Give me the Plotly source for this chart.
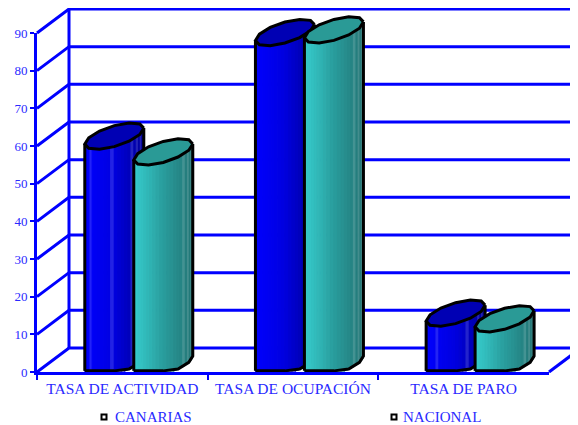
import numpy as np
import plotly.graph_objects as go

categories = ["TASA DE ACTIVIDAD", "TASA DE OCUPACIÓN", "TASA DE PARO"]
canarias = [60.5, 88, 13.5]
nacional = [56.3, 88.7, 12]
y_ticks = [0, 10, 20, 30, 40, 50, 60, 70, 80, 90]

# the page body adds an 8 px offset, so the figure is 8 px smaller and pixel values are shifted
PAGE = 8
W, H = 578 - PAGE, 425 - PAGE
PX_L, PX_R, PX_0, PX_90 = 37 - PAGE, 549 - PAGE, 372 - PAGE, 33 - PAGE
UX = (PX_R - PX_L) / 3
UY = (PX_0 - PX_90) / 90
DX, DY = 32 / UX, 24 / UY          # depth of the 3D box
X0 = -0.5 - PX_L / UX
X1 = X0 + W / UX
Y0 = -(H - PX_0) / UY
Y1 = PX_0 / UY

CW = 59 / UX       # cylinder width
RISE = 16 / UY     # slant of the ellipse
HALF = 10.5 / UY   # half thickness of the ellipse
OFFS = (-0.22, 0.067)
BLUE = ("#0000ff", "#0000e0", "#00009c")
TEAL = ("#38cfcf", "#2a9e9e", "#247676")
CAP = ("#0000b4", "#2a9a96")
GRID = "#0000ff"
TXT = "#2a2aff"
FONT = "Liberation Serif"


def hexrgb(c):
    return np.array([int(c[i:i + 2], 16) for i in (1, 3, 5)], float)


def ramp(cols, f):
    a, b, c = [hexrgb(k) for k in cols]
    return a + (b - a) * f * 2 if f < .5 else b + (c - b) * (f - .5) * 2


fig = go.Figure()


def line(xs, ys, color=GRID, width=3):
    fig.add_trace(go.Scatter(x=xs, y=ys, mode="lines", line=dict(color=color, width=width),
                             hoverinfo="skip", showlegend=False, xaxis="x", yaxis="y"))


def poly(xs, ys, fill, lc=None, lw=0):
    fig.add_trace(go.Scatter(x=xs, y=ys, mode="lines", fill="toself", fillcolor=fill,
                             line=dict(color=lc or fill, width=lw if lc else 1.2),
                             hoverinfo="skip", showlegend=False, xaxis="x", yaxis="y"))


# box
for v in y_ticks:
    line([-0.5, -0.5 + DX, X1 + 1], [v, v + DY, v + DY])
line([-0.5 + DX] * 2, [DY, 90 + DY])
line([2.5, 2.5 + DX], [0, DY])


def cylinder(left, val, cols, cap, streaks):
    cx = left + CW / 2
    n = 26
    ts = np.linspace(np.pi, 2 * np.pi, n + 1)

    def low(level, t):
        x = cx + CW / 2 * np.cos(t)
        y = level + RISE / 2 + RISE / 2 * np.cos(t) + HALF * np.sin(t)
        return x, y

    for i in range(n):
        x1, y1 = low(val, ts[i])
        x2, y2 = low(val, ts[i + 1])
        b1 = max(low(0, ts[i])[1], 0.3)
        b2 = max(low(0, ts[i + 1])[1], 0.3)
        f = ((x1 + x2) / 2 - left) / CW
        rgb = ramp(cols, f)
        if i in streaks:
            rgb = rgb * .86 + np.array([255, 255, 255]) * .14
        poly([x1, x2, x2, x1, x1], [y1, y2, b2, b1, y1], "rgb(%d,%d,%d)" % tuple(rgb))
    tb = np.linspace(np.pi, 2 * np.pi, 7)
    bx, by = low(0, tb)
    by = np.maximum(by, 0.3)
    tx, ty = low(val, tb)
    line(list(bx) + [tx[-1]], list(by) + [ty[-1]], "#000000", 3)
    line([bx[0], tx[0]], [by[0], ty[0]], "#000000", 3)
    tc = np.linspace(0, 2 * np.pi, 13)
    cxs, cys = low(val, tc)
    poly(list(cxs), list(cys), cap, "#000000", 3)


streak_sets = [(5, 12, 18, 20, 22), (), (7, 16, 20, 22)]
for k in range(3):
    cylinder(k + OFFS[0], canarias[k], BLUE, CAP[0], streak_sets[k])
    cylinder(k + OFFS[1], nacional[k], TEAL, CAP[1], (19, 21, 23))

# carrier bars keep the real category axis, invisible
fig.add_trace(go.Bar(x=categories, y=canarias, opacity=0, xaxis="x2", yaxis="y2",
                     hoverinfo="skip", showlegend=False))

# legend keys sit closer to their text than a Plotly legend allows, so the entries carry the text
KEY = dict(symbol="square", size=5, color="white", line=dict(color="black", width=2))
for name, leg, px in (("CANARIAS", "legend", 104), ("NACIONAL", "legend2", 394)):
    fig.add_trace(go.Scatter(x=[None], y=[None], mode="markers", name=name, xaxis="x2", yaxis="y2", legend=leg,
                             marker=dict(symbol="square", size=5, color="rgba(0,0,0,0)",
                                         line=dict(width=0, color="rgba(0,0,0,0)"))))
    fig.add_trace(go.Scatter(x=[X0 + (px - PAGE) / UX], y=[Y1 - (417 - PAGE) / UY], mode="markers", marker=KEY,
                             hoverinfo="skip", showlegend=False, xaxis="x", yaxis="y"))


def legend_at(px):
    return dict(x=(px - PAGE) / W, y=1 - (416 - PAGE) / H, xanchor="left", yanchor="middle",
                font=dict(family=FONT, size=15, color=TXT), bgcolor="rgba(0,0,0,0)",
                itemwidth=30)


fig.update_layout(
    width=W, height=H, margin=dict(l=0, r=0, t=0, b=0, autoexpand=False), autosize=False,
    paper_bgcolor="white", plot_bgcolor="rgba(0,0,0,0)", bargap=0.4,
    font=dict(family=FONT, size=13, color=TXT),
    xaxis=dict(domain=[0, 1], range=[X0, X1], visible=False, fixedrange=True),
    yaxis=dict(domain=[0, 1], range=[Y0, Y1], visible=False, fixedrange=True),
    xaxis2=dict(domain=[PX_L / W, PX_R / W], anchor="y2", type="category", categoryorder="array",
                categoryarray=categories, range=[-0.5, 2.5], tickson="boundaries", ticks="outside", ticklen=5,
                tickwidth=2, tickcolor=GRID, showline=True, linecolor=GRID, linewidth=3, showgrid=False,
                zeroline=False, tickfont=dict(family=FONT, size=15.5, color=TXT), fixedrange=True),
    yaxis2=dict(domain=[(H - PX_0) / H, (H - PX_90) / H], anchor="x2", range=[0, 90], tickvals=y_ticks,
                ticks="outside", ticklen=4, tickwidth=2, tickcolor=GRID, showline=True, linecolor=GRID, linewidth=3,
                showgrid=False, zeroline=False, tickfont=dict(family=FONT, size=13, color=TXT), fixedrange=True),
    showlegend=True,
    legend=legend_at(115 - 40),
    legend2=legend_at(403 - 40),
)
fig.write_html("out.html")
